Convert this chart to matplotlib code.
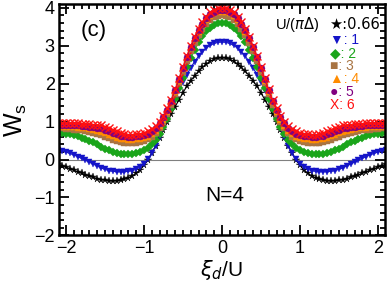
import numpy as np
import matplotlib
matplotlib.use('Agg')
import matplotlib.pyplot as plt
from matplotlib.ticker import MultipleLocator

plt.rcParams['font.family'] = ['Liberation Sans', 'DejaVu Sans']
plt.rcParams['mathtext.fontset'] = 'dejavusans'

# xi_d/U from 0 to 2.1 (curves are symmetric around 0)
xi_half = np.round(np.arange(0, 2.1001, 0.05), 2)

w_066 = [2.68, 2.67, 2.64, 2.59, 2.52, 2.43, 2.33, 2.21, 2.08, 1.93, 1.76, 1.58, 1.39, 1.19,
         0.98, 0.77, 0.56, 0.36, 0.16, -0.01, -0.15, -0.27, -0.36, -0.43, -0.48, -0.52, -0.55,
         -0.56, -0.57, -0.56, -0.55, -0.53, -0.50, -0.47, -0.44, -0.40, -0.36, -0.32, -0.28,
         -0.24, -0.20, -0.16, -0.12]
w_1 = [3.10, 3.09, 3.06, 3.01, 2.94, 2.84, 2.72, 2.58, 2.42, 2.24, 2.04, 1.82, 1.58, 1.33,
       1.08, 0.83, 0.59, 0.37, 0.17, 0.01, -0.11, -0.20, -0.26, -0.29, -0.31, -0.32, -0.32,
       -0.32, -0.31, -0.29, -0.26, -0.22, -0.17, -0.12, -0.07, -0.02, 0.03, 0.08, 0.12,
       0.16, 0.20, 0.23, 0.26]
w_2 = [3.60, 3.59, 3.55, 3.48, 3.38, 3.25, 3.09, 2.90, 2.68, 2.43, 2.16, 1.88, 1.60, 1.33,
       1.08, 0.86, 0.67, 0.52, 0.40, 0.31, 0.25, 0.20, 0.17, 0.15, 0.14, 0.14, 0.15, 0.17,
       0.20, 0.24, 0.29, 0.34, 0.40, 0.45, 0.50, 0.54, 0.58, 0.61, 0.64, 0.66, 0.68, 0.70, 0.71]
w_3 = [3.80, 3.79, 3.75, 3.68, 3.58, 3.45, 3.28, 3.08, 2.85, 2.59, 2.31, 2.02, 1.73, 1.45,
       1.20, 0.99, 0.82, 0.69, 0.60, 0.53, 0.49, 0.46, 0.44, 0.43, 0.43, 0.44, 0.46, 0.49,
       0.52, 0.56, 0.60, 0.64, 0.67, 0.70, 0.73, 0.75, 0.77, 0.78, 0.79, 0.80, 0.81, 0.82, 0.83]
w_4 = [3.90, 3.89, 3.85, 3.78, 3.68, 3.54, 3.37, 3.17, 2.93, 2.67, 2.38, 2.08, 1.79, 1.51,
       1.26, 1.05, 0.88, 0.75, 0.66, 0.60, 0.56, 0.54, 0.53, 0.52, 0.52, 0.53, 0.55, 0.58,
       0.61, 0.65, 0.69, 0.72, 0.75, 0.78, 0.80, 0.82, 0.83, 0.84, 0.85, 0.86, 0.87, 0.87, 0.88]
w_5 = [3.95, 3.94, 3.90, 3.83, 3.72, 3.58, 3.41, 3.20, 2.96, 2.70, 2.41, 2.11, 1.82, 1.55,
       1.31, 1.11, 0.95, 0.83, 0.74, 0.68, 0.64, 0.62, 0.61, 0.60, 0.60, 0.61, 0.63, 0.67,
       0.71, 0.75, 0.79, 0.82, 0.84, 0.86, 0.87, 0.88, 0.89, 0.90, 0.91, 0.91, 0.92, 0.92, 0.93]
w_6 = [4.00, 3.99, 3.95, 3.88, 3.77, 3.63, 3.45, 3.24, 3.00, 2.73, 2.44, 2.14, 1.85, 1.58,
       1.35, 1.15, 1.00, 0.88, 0.80, 0.75, 0.70, 0.67, 0.66, 0.65, 0.65, 0.66, 0.69, 0.74,
       0.79, 0.84, 0.87, 0.90, 0.91, 0.92, 0.93, 0.94, 0.94, 0.95, 0.95, 0.96, 0.96, 0.97, 0.97]

series = [w_066, w_1, w_2, w_3, w_4, w_5, w_6]
etiquetas = ['0.66', '1', '2', '3', '4', '5', '6']
simbolos = ['\u2605', '\u25BC', '\u25C6', '\u25A0', '\u25B2', '\u25CF', 'X']
colores = ['black', '#1414c8', '#1aa51a', '#a87443', '#ff8c00', '#800080', '#ff1010']
marcadores = ['*', 'v', 'D', 's', '^', 'o', 'x']
tamanos = [5.5, 4.5, 4, 4, 4.5, 5, 5.5]


def espejo(valores):
    """Completa la curva simetrica a partir de la mitad positiva"""
    v = np.array(valores)
    return np.concatenate([v[::-1], v[1:]])


xi = np.concatenate([-xi_half[::-1], xi_half[1:]])

fig = plt.figure(figsize=(3.9, 2.91), dpi=100)
ax = fig.add_axes([0.151, 0.191, 0.836, 0.794])

ax.axhline(0, color='gray', linewidth=0.8, zorder=1)

for w, c, m, s in zip(series, colores, marcadores, tamanos):
    ax.plot(xi, espejo(w), color=c, marker=m, markersize=s, linewidth=0.8,
            markeredgewidth=1.0 if m == 'x' else 0.3, zorder=2)

ax.set_xlim(-2.09, 2.09)
ax.set_ylim(-2, 4.09)
ax.xaxis.set_major_locator(MultipleLocator(1))
ax.xaxis.set_minor_locator(MultipleLocator(0.1))
ax.yaxis.set_major_locator(MultipleLocator(1))
ax.yaxis.set_minor_locator(MultipleLocator(0.2))
ax.tick_params(which='both', direction='in', top=True, right=True, width=1.3)
ax.tick_params(which='major', length=7, labelsize=13, pad=3)
ax.tick_params(which='minor', length=3.5)
for sp in ax.spines.values():
    sp.set_linewidth(1.8)

ax.set_xticks([-2, -1, 0, 1, 2])
ax.set_xticklabels(['\u22122', '\u22121', '0', '1', '2'])
ax.set_yticks([-2, -1, 0, 1, 2, 3, 4])
ax.set_yticklabels(['\u22122', '\u22121', '0', '1', '2', '3', '4'])

ax.set_xlabel(r'$\xi_d$/U', fontsize=15, labelpad=1)
ax.set_ylabel(r'$\mathregular{W_s}$', fontsize=18, labelpad=4)

ax.text(-1.65, 3.4, '(c)', fontsize=16, ha='center', va='center')
ax.text(0.03, -0.95, 'N=4', fontsize=15, ha='center', va='center')

# Leyenda manual
ax.text(0.663, 0.911, r'U/($\pi\Delta$)', fontsize=10.5, transform=ax.transAxes,
        ha='left', va='center')
ax.text(0.828, 0.911, '\u2605:0.66', fontsize=10.5, transform=ax.transAxes,
        ha='left', va='center', family=['DejaVu Sans'])
ys = [0.846, 0.79, 0.734, 0.677, 0.621, 0.565]
for y, sym, lab, c in zip(ys, simbolos[1:], etiquetas[1:], colores[1:]):
    ax.text(0.831, y, f'{sym}: {lab}', fontsize=10, color=c, transform=ax.transAxes,
            ha='left', va='center', family=['Liberation Sans', 'DejaVu Sans'])

fig.savefig('out.png', dpi=100)
